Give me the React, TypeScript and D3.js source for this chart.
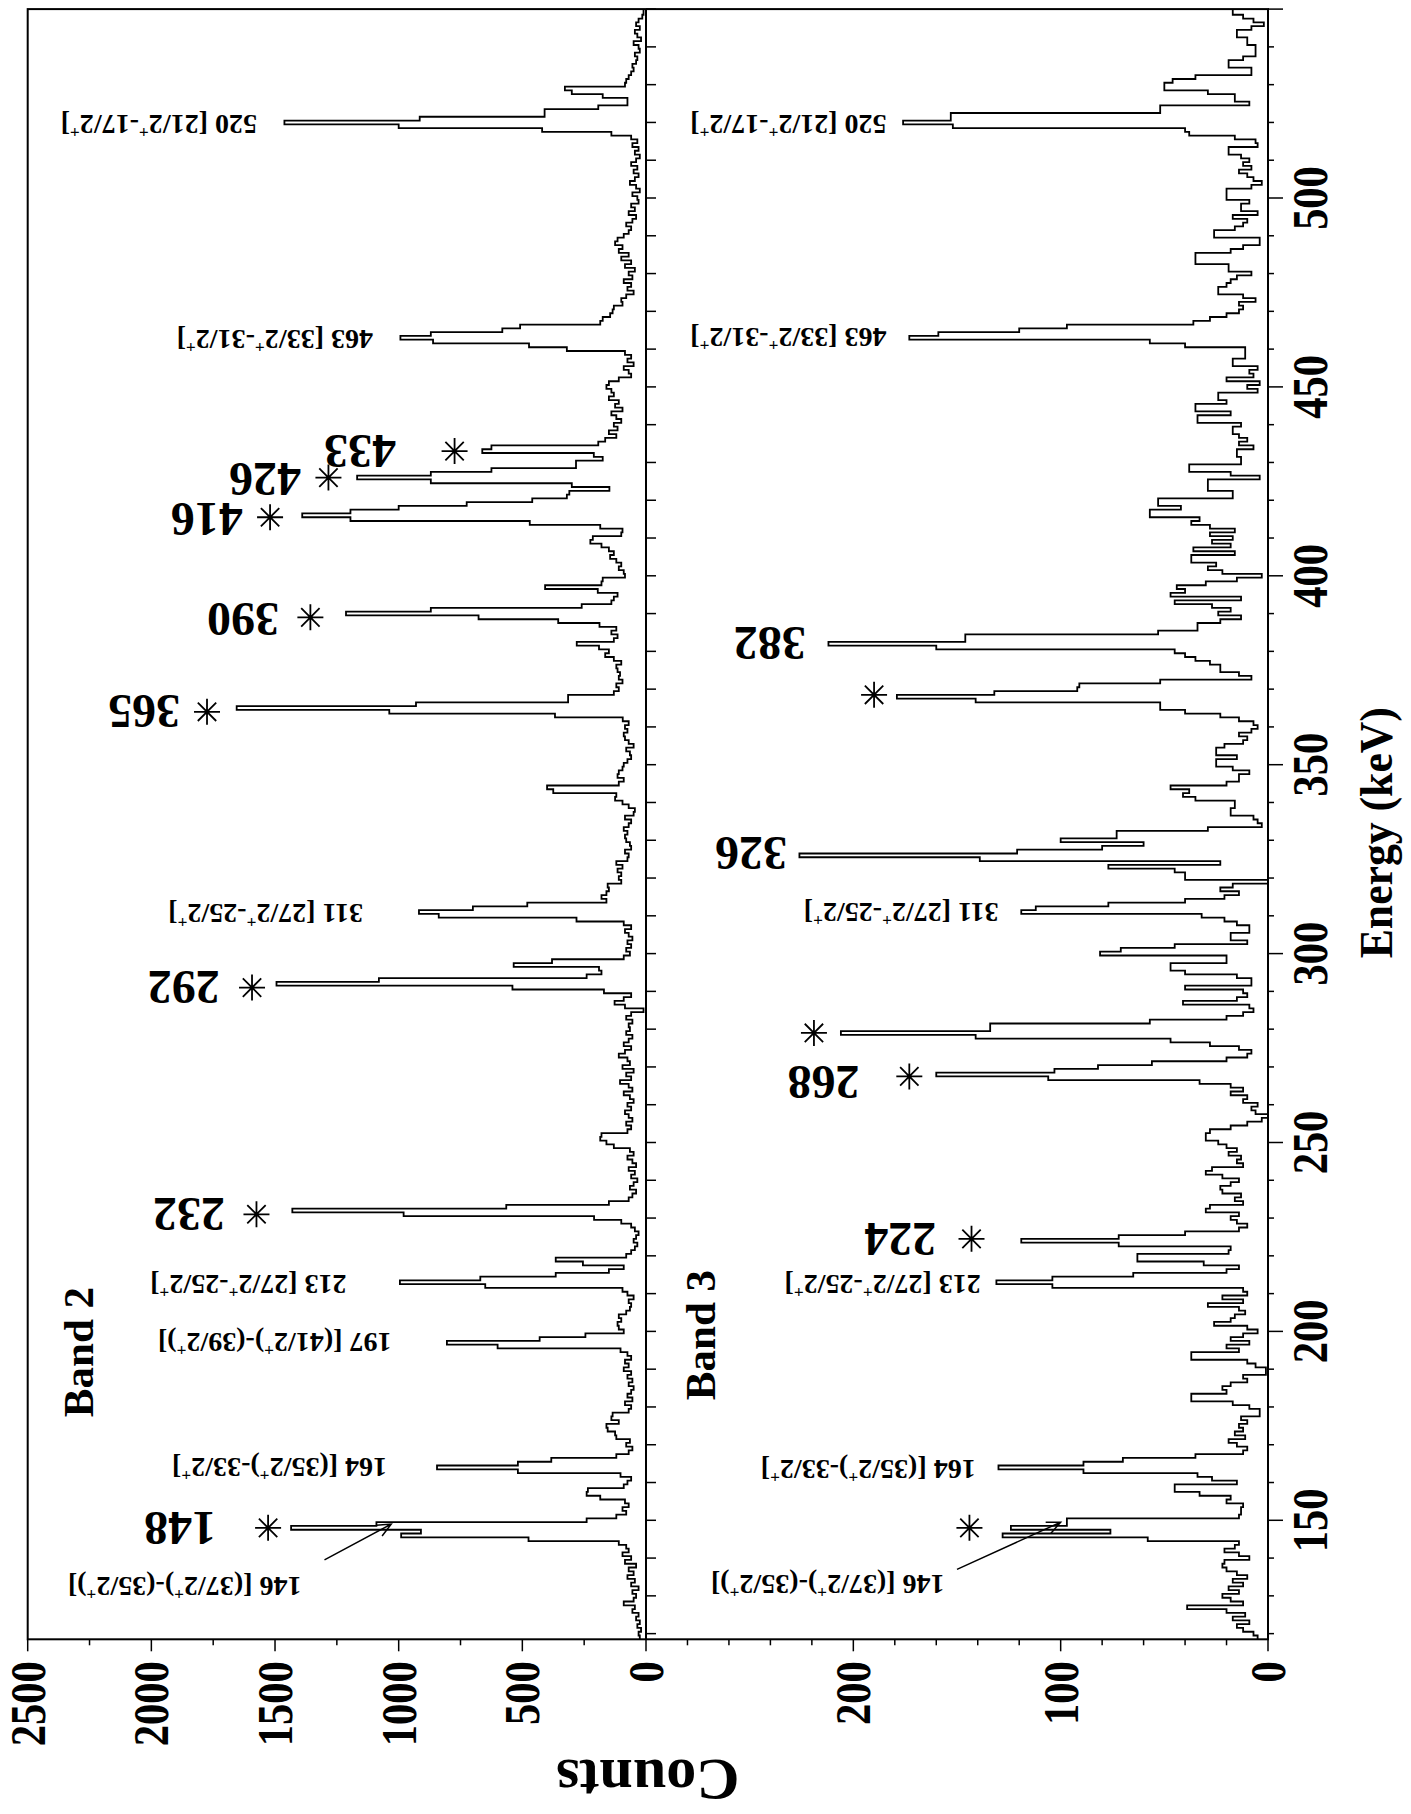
import React from "react";
import * as d3 from "d3";

// Gamma-ray coincidence spectra for two rotational bands, 1 keV bins.
const E_FIRST = 119; // centre of the first bin (keV)

const band2Counts: number[] = [
  25, 30, 20, 35, 25, 40, 30, 55, 45, 90, // 119
  50, 40, 55, 30, 60, 45, 75, 50, 70, 40, // 129
  85, 60, 95, 70, 80, 110, 475, 990, 910, 1435, // 139
  1090, 240, 120, 80, 95, 70, 85, 185, 240, 235, // 149
  90, 75, 60, 103, 518, 845, 518, 383, 120, 70, // 159
  55, 80, 65, 120, 125, 155, 160, 110, 140, 135, // 169
  70, 60, 85, 55, 75, 60, 50, 70, 55, 75, // 179
  60, 90, 70, 85, 60, 75, 103, 600, 805, 430, // 189
  245, 90, 110, 115, 100, 110, 80, 65, 60, 70, // 199
  50, 75, 95, 650, 995, 670, 365, 150, 90, 255, // 209
  365, 80, 60, 45, 35, 50, 40, 30, 45, 60, // 219
  100, 210, 980, 1430, 565, 150, 70, 55, 40, 65, // 229
  50, 35, 60, 45, 70, 40, 55, 75, 50, 65, // 239
  130, 160, 185, 180, 75, 60, 80, 55, 70, 85, // 249
  60, 75, 50, 65, 90, 55, 70, 105, 60, 80, // 259
  50, 95, 65, 75, 110, 85, 60, 90, 70, 55, // 269
  80, 65, 70, 55, 80, 60, 10, 85, 127, 90, // 279
  60, 170, 540, 1494, 1080, 240, 180, 190, 535, 380, // 289
  90, 65, 80, 60, 75, 55, 70, 85, 60, 90, // 299
  281, 838, 918, 700, 480, 160, 180, 160, 150, 155, // 309
  100, 110, 100, 115, 95, 120, 75, 70, 85, 60, // 319
  65, 80, 85, 75, 90, 70, 60, 85, 50, 45, // 329
  70, 95, 125, 120, 375, 400, 110, 90, 115, 110, // 339
  95, 90, 75, 60, 65, 80, 50, 70, 85, 90, // 349
  75, 85, 70, 94, 368, 1038, 1655, 930, 315, 315, // 359
  130, 110, 120, 95, 110, 105, 115, 120, 100, 130, // 369
  165, 150, 190, 280, 130, 115, 140, 120, 188, 355, // 379
  677, 1213, 870, 260, 140, 130, 115, 195, 408, 180, // 389
  175, 85, 90, 110, 100, 120, 145, 130, 150, 180, // 399
  225, 215, 100, 95, 185, 470, 1195, 1390, 1195, 1000, // 409
  725, 460, 320, 310, 148, 300, 870, 1168, 870, 625, // 419
  283, 283, 175, 211, 662, 625, 193, 165, 120, 150, // 429
  115, 130, 100, 120, 140, 95, 125, 110, 150, 130, // 439
  140, 160, 150, 110, 60, 70, 90, 50, 75, 60, // 449
  85, 320, 473, 861, 993, 870, 581, 509, 185, 175, // 459
  145, 135, 130, 95, 100, 80, 50, 75, 60, 90, // 469
  55, 70, 45, 85, 60, 100, 70, 110, 95, 125, // 479
  115, 90, 70, 60, 80, 55, 40, 70, 45, 60, // 489
  30, 35, 55, 25, 40, 65, 45, 30, 50, 35, // 499
  60, 40, 25, 45, 30, 55, 35, 60, 140, 420, // 509
  1000, 1462, 915, 410, 410, 193, 75, 75, 175, 300, // 519
  328, 85, 80, 70, 60, 50, 55, 40, 35, 45, // 529
  25, 30, 50, 20, 35, 45, 25, 40, 30, 15, // 539
  10, // 549
];

const band3Counts: number[] = [
  5, 7, 12, 15, 9, 17, 11, 20, 39, 12, // 119
  18, 22, 14, 19, 12, 17, 10, 15, 20, 22, // 129
  21, 9, 14, 21, 16, 14, 58, 128, 76, 124, // 139
  97, 97, 14, 13, 13, 12, 20, 18, 33, 45, // 149
  45, 15, 27, 34, 89, 130, 89, 70, 35, 12, // 159
  10, 15, 19, 11, 16, 12, 14, 10, 13, 4, // 169
  4, 9, 17, 37, 37, 20, 22, 18, 10, 12, // 179
  1, 1, 6, 10, 37, 37, 14, 20, 9, 18, // 189
  12, 5, 10, 26, 18, 16, 11, 14, 29, 12, // 199
  22, 10, 12, 104, 131, 104, 65, 20, 14, 31, // 209
  63, 63, 19, 18, 72, 119, 72, 40, 14, 10, // 219
  15, 18, 14, 30, 28, 12, 16, 13, 22, 23, // 229
  18, 14, 22, 30, 27, 12, 15, 13, 19, 15, // 239
  20, 24, 30, 30, 28, 18, 10, 3, 0, 6, // 249
  8, 5, 12, 10, 18, 12, 18, 33, 106, 160, // 259
  103, 82, 56, 20, 10, 8, 14, 28, 47, 141, // 269
  206, 134, 134, 57, 20, 12, 7, 9, 41, 15, // 279
  10, 12, 40, 8, 8, 15, 40, 47, 47, 20, // 289
  20, 81, 71, 45, 10, 18, 18, 9, 9, 15, // 299
  21, 32, 119, 112, 77, 40, 21, 14, 23, 17, // 309
  0, 40, 40, 45, 77, 23, 139, 226, 121, 80, // 319
  60, 100, 73, 73, 29, 3, 5, 7, 18, 18, // 329
  16, 16, 35, 41, 38, 47, 20, 14, 14, 9, // 339
  17, 25, 25, 15, 25, 25, 21, 12, 10, 14, // 349
  8, 5, 7, 14, 23, 40, 52, 52, 141, 179, // 359
  132, 92, 91, 52, 8, 14, 23, 23, 28, 35, // 369
  40, 45, 160, 212, 146, 146, 53, 34, 34, 23, // 379
  13, 24, 18, 27, 45, 13, 47, 40, 44, 30, // 389
  15, 3, 22, 29, 25, 37, 37, 16, 36, 18, // 399
  27, 17, 28, 16, 28, 37, 33, 57, 57, 42, // 409
  53, 53, 17, 17, 29, 29, 29, 4, 18, 38, // 419
  38, 13, 13, 15, 15, 7, 14, 10, 14, 17, // 429
  17, 13, 34, 34, 18, 35, 35, 20, 24, 24, // 439
  5, 10, 4, 20, 7, 9, 5, 17, 17, 11, // 449
  11, 11, 40, 57, 173, 159, 120, 97, 36, 28, // 459
  20, 14, 12, 14, 6, 12, 24, 24, 20, 18, // 469
  15, 8, 19, 19, 35, 35, 35, 18, 12, 4, // 479
  4, 26, 26, 16, 12, 10, 17, 5, 13, 13, // 489
  9, 20, 20, 20, 8, 3, 7, 10, 14, 8, // 499
  12, 9, 13, 19, 19, 5, 6, 16, 38, 40, // 509
  152, 176, 153, 153, 52, 52, 9, 16, 16, 29, // 519
  50, 50, 46, 35, 8, 8, 19, 19, 12, 6, // 529
  6, 6, 10, 10, 15, 15, 8, 2, 7, 12, // 539
  17, // 549
];

const energyTickLabels = [150, 200, 250, 300, 350, 400, 450, 500];
const band2CountLabels = [0, 500, 1000, 1500, 2000, 2500];
const band3CountLabels = [0, 100, 200];

// Transition labels: text, energy (keV), count where the text begins.
const band2Labels = [
  { text: "146 [(37/2+)-(35/2+)]", e: 132.5, c: 1393, big: false },
  { text: "148", e: 148, c: 1739, big: true },
  { text: "164 [(35/2+)-33/2+]", e: 164, c: 1047, big: false },
  { text: "197 [(41/2+)-(39/2+)]", e: 197, c: 1029, big: false },
  { text: "213 [27/2+-25/2+]", e: 212.5, c: 1211, big: false },
  { text: "232", e: 231, c: 1702, big: true },
  { text: "292", e: 291, c: 1723, big: true },
  { text: "311 [27/2+-25/2+]", e: 310.5, c: 1144, big: false },
  { text: "365", e: 364, c: 1884, big: true },
  { text: "390", e: 388.5, c: 1484, big: true },
  { text: "416", e: 415, c: 1630, big: true },
  { text: "426", e: 425.5, c: 1395, big: true },
  { text: "433", e: 433, c: 1011, big: true },
  { text: "463 [33/2+-31/2+]", e: 462.5, c: 1104, big: false },
  { text: "520 [21/2+-17/2+]", e: 519.5, c: 1573, big: false },
];
const band3Labels = [
  { text: "146 [(37/2+)-(35/2+)]", e: 133, c: 156, big: false },
  { text: "164 [(35/2+)-33/2+]", e: 163.5, c: 141, big: false },
  { text: "213 [27/2+-25/2+]", e: 212.5, c: 138.5, big: false },
  { text: "224", e: 224.5, c: 160, big: true },
  { text: "268", e: 266, c: 197, big: true },
  { text: "311 [27/2+-25/2+]", e: 311, c: 130, big: false },
  { text: "326", e: 326.5, c: 232, big: true },
  { text: "382", e: 382, c: 223, big: true },
  { text: "463 [33/2+-31/2+]", e: 463, c: 184, big: false },
  { text: "520 [21/2+-17/2+]", e: 519.5, c: 184, big: false },
];

// Asterisks marking in-band transitions: [energy, count]
const band2Stars: [number, number][] = [
  [148, 1528], [231, 1575], [291, 1593], [364, 1775], [389, 1357],
  [415.5, 1520], [426, 1284], [433, 774],
];
const band3Stars: [number, number][] = [
  [148, 144], [224.5, 143], [267.5, 173], [279, 219], [368.5, 190],
];

// Arrows from the 146 keV label to its shoulder: [e0, c0, e1, c1]
const band2Arrow = [139.5, 1300, 149, 1030];
const band3Arrow = [137, 150, 149.5, 100];

const W = 1411;
const H = 1814;
const ENERGY_MIN = 118.5;
const ENERGY_MAX = 550;
const AXIS_ORIGIN_Y = 1639.3; // page y of the low-energy end
const AXIS_LEN = 1630.2;
const LEFT = 27.7;
const MID = 646;
const RIGHT = 1268;
const FONT = "'Liberation Serif', 'Times New Roman', serif";

const eScale = d3.scaleLinear().domain([ENERGY_MIN, ENERGY_MAX]).range([0, AXIS_LEN]);
const b2Scale = d3.scaleLinear().domain([0, 2500]).range([MID, LEFT]);
const b3Scale = d3.scaleLinear().domain([0, 300]).range([RIGHT, MID]);

function stepPath(counts: number[], y: d3.ScaleLinear<number, number>) {
  const pts: [number, number][] = counts.map((c, i) => [E_FIRST - 0.5 + i, c]);
  pts.push([ENERGY_MAX, counts[counts.length - 1]]);
  return (
    d3
      .line<[number, number]>()
      .x((d) => eScale(d[0]))
      .y((d) => y(d[1]))
      .curve(d3.curveStepAfter)(pts) || ""
  );
}

function Superscripted({ text, size }: { text: string; size: number }) {
  const parts = text.split("+");
  const shift = size * 0.4;
  const nodes: React.ReactNode[] = [];
  parts.forEach((p, i) => {
    if (i > 0) {
      nodes.push(
        <tspan key={"s" + i} dy={-shift} fontSize={size * 0.62}>
          +
        </tspan>
      );
      nodes.push(
        <tspan key={"p" + i} dy={shift}>
          {p}
        </tspan>
      );
    } else {
      nodes.push(<tspan key={"p" + i}>{p}</tspan>);
    }
  });
  return <>{nodes}</>;
}

function PeakLabel({ text, e, c, big, y }: any) {
  const size = big ? 48 : 28;
  const u = eScale(e);
  const v = y(c);
  return (
    <text
      transform={`translate(${u},${v}) rotate(-90)`}
      x={0}
      y={size * 0.34}
      fontSize={size}
      fontWeight="bold"
      fontFamily={FONT}
      textAnchor="start"
    >
      <Superscripted text={text} size={size} />
    </text>
  );
}

function Star({ e, c, y }: any) {
  const u = eScale(e);
  const v = y(c);
  const r = 13;
  const d = r * Math.SQRT1_2;
  return (
    <path
      d={`M${u - r},${v}L${u + r},${v}M${u},${v - r}L${u},${v + r}M${u - d},${v - d}L${u + d},${v + d}M${u - d},${v + d}L${u + d},${v - d}`}
      stroke="#000"
      strokeWidth={1.8}
    />
  );
}

function Arrow({ a, y }: any) {
  const x0 = eScale(a[0]);
  const y0 = y(a[1]);
  const x1 = eScale(a[2]);
  const y1 = y(a[3]);
  const ang = Math.atan2(y1 - y0, x1 - x0);
  const L = 15;
  const spread = 0.42;
  const h1 = [x1 - L * Math.cos(ang - spread), y1 - L * Math.sin(ang - spread)];
  const h2 = [x1 - L * Math.cos(ang + spread), y1 - L * Math.sin(ang + spread)];
  return (
    <path
      d={`M${x0},${y0}L${x1},${y1}M${h1[0]},${h1[1]}L${x1},${y1}L${h2[0]},${h2[1]}`}
      stroke="#000"
      strokeWidth={1.5}
      fill="none"
    />
  );
}

export default function App() {
  const minorE = d3.range(120, 551, 10);
  const band2Minor = d3.range(250, 2500, 500);
  const band3Minor = d3.range(20, 300, 20).filter((v) => v % 100 !== 0);
  const tickSize = 50;
  const tickCompress = 0.85;
  const labelGap = -22;

  return (
    <svg
      width={W}
      height={H}
      viewBox={`0 0 ${W} ${H}`}
      style={{ position: "absolute", left: 0, top: 0, background: "#fff" }}
    >
      <rect x={0} y={0} width={W} height={H} fill="#fff" />
      <g transform={`translate(0,${AXIS_ORIGIN_Y}) rotate(-90)`}>
        {/* frame and panel divider */}
        <rect
          x={0}
          y={LEFT}
          width={AXIS_LEN}
          height={RIGHT - LEFT}
          fill="none"
          stroke="#000"
          strokeWidth={2}
        />
        <line x1={0} x2={AXIS_LEN} y1={MID} y2={MID} stroke="#000" strokeWidth={2} />

        {/* energy ticks */}
        {minorE.map((e) => (
          <line
            key={"b2e" + e}
            x1={eScale(e)}
            x2={eScale(e)}
            y1={MID}
            y2={MID + 10}
            stroke="#000"
            strokeWidth={1.5}
          />
        ))}
        {minorE.map((e) => (
          <line
            key={"b3e" + e}
            x1={eScale(e)}
            x2={eScale(e)}
            y1={RIGHT}
            y2={RIGHT + (e % 50 === 0 ? 15 : 6)}
            stroke="#000"
            strokeWidth={1.5}
          />
        ))}
        {energyTickLabels.map((e) => (
          <text
            key={"el" + e}
            transform={`translate(${eScale(e)},${RIGHT + 59}) scale(${tickCompress},1)`}
            textAnchor="middle"
            fontSize={tickSize}
            fontWeight="bold"
            fontFamily={FONT}
          >
            {e}
          </text>
        ))}

        {/* count ticks */}
        {band2CountLabels.map((c) => (
          <line key={"b2t" + c} x1={0} x2={-12} y1={b2Scale(c)} y2={b2Scale(c)} stroke="#000" strokeWidth={1.5} />
        ))}
        {band2Minor.map((c) => (
          <line key={"b2m" + c} x1={0} x2={-6} y1={b2Scale(c)} y2={b2Scale(c)} stroke="#000" strokeWidth={1.5} />
        ))}
        {band3CountLabels.map((c) => (
          <line key={"b3t" + c} x1={0} x2={-12} y1={b3Scale(c)} y2={b3Scale(c)} stroke="#000" strokeWidth={1.5} />
        ))}
        {band3Minor.map((c) => (
          <line key={"b3m" + c} x1={0} x2={-6} y1={b3Scale(c)} y2={b3Scale(c)} stroke="#000" strokeWidth={1.5} />
        ))}
        {band2CountLabels.map((c) => (
          <text
            key={"b2l" + c}
            transform={`translate(${labelGap},${b2Scale(c)}) scale(${tickCompress},1)`}
            y={tickSize * 0.34}
            textAnchor="end"
            fontSize={tickSize}
            fontWeight="bold"
            fontFamily={FONT}
          >
            {c}
          </text>
        ))}
        {band3CountLabels.map((c) => (
          <text
            key={"b3l" + c}
            transform={`translate(${labelGap},${b3Scale(c)}) scale(${tickCompress},1)`}
            y={tickSize * 0.34}
            textAnchor="end"
            fontSize={tickSize}
            fontWeight="bold"
            fontFamily={FONT}
          >
            {c}
          </text>
        ))}

        {/* axis titles */}
        <text
          transform={`translate(${eScale(332)},1392) scale(0.95,1)`}
          textAnchor="middle"
          fontSize={46}
          fontWeight="bold"
          fontFamily={FONT}
        >
          Energy (keV)
        </text>
        <text
          transform={`translate(-141,${(LEFT + RIGHT) / 2}) rotate(-90)`}
          y={60 * 0.34}
          textAnchor="middle"
          fontSize={60}
          fontWeight="bold"
          fontFamily={FONT}
        >
          Counts
        </text>

        {/* spectra */}
        <path d={stepPath(band2Counts, b2Scale)} fill="none" stroke="#000" strokeWidth={1.8} />
        <path d={stepPath(band3Counts, b3Scale)} fill="none" stroke="#000" strokeWidth={1.8} />

        {/* band names */}
        <text x={eScale(177.3)} y={b2Scale(2234)} fontSize={43} fontWeight="bold" fontFamily={FONT}>
          Band 2
        </text>
        <text x={eScale(181.8)} y={b3Scale(266.5)} fontSize={43} fontWeight="bold" fontFamily={FONT}>
          Band 3
        </text>

        {/* annotations */}
        {band2Labels.map((l) => (
          <PeakLabel key={"l2" + l.text + l.e} {...l} y={b2Scale} />
        ))}
        {band3Labels.map((l) => (
          <PeakLabel key={"l3" + l.text + l.e} {...l} y={b3Scale} />
        ))}
        {band2Stars.map((s) => (
          <Star key={"s2" + s[0]} e={s[0]} c={s[1]} y={b2Scale} />
        ))}
        {band3Stars.map((s) => (
          <Star key={"s3" + s[0]} e={s[0]} c={s[1]} y={b3Scale} />
        ))}
        <Arrow a={band2Arrow} y={b2Scale} />
        <Arrow a={band3Arrow} y={b3Scale} />
      </g>
    </svg>
  );
}
